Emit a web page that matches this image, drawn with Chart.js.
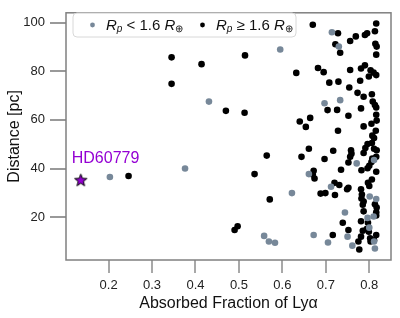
<!DOCTYPE html>
<html>
<head>
<meta charset="utf-8">
<script src="https://cdn.jsdelivr.net/npm/chart.js@4.4.1/dist/chart.umd.min.js"></script>
<style>
  html, body { margin: 0; padding: 0; background: #fff; }
</style>
</head>
<body>
<canvas id="chart" width="400" height="318"></canvas>
<script>
// planets with Rp < 1.6 R_earth (grey)
const smallX = [0.203, 0.376, 0.595, 0.431, 0.622, 0.558, 0.569, 0.583, 0.714, 0.730,
  0.697, 0.733, 0.811, 0.771, 0.661, 0.712, 0.801, 0.816, 0.744, 0.796,
  0.810, 0.800, 0.672, 0.750, 0.811, 0.705, 0.761, 0.813];
const smallY = [36.5, 40.0, 88.9, 67.5, 29.9, 12.3, 10.0, 9.5, 96.0, 90.1,
  66.8, 68.1, 43.5, 42.1, 37.7, 32.5, 28.5, 27.5, 21.9, 19.7,
  20.3, 15.7, 12.7, 12.0, 10.0, 9.6, 8.3, 7.1];

// planets with Rp >= 1.6 R_earth (black)
const largeX = [0.246, 0.345, 0.345, 0.514, 0.414, 0.470, 0.513, 0.564, 0.536, 0.571,
  0.490, 0.497, 0.670, 0.728, 0.722, 0.733, 0.756, 0.769, 0.790, 0.795,
  0.816, 0.813, 0.814, 0.817, 0.816, 0.632, 0.682, 0.695, 0.756, 0.781,
  0.790, 0.803, 0.810, 0.816, 0.799, 0.708, 0.729, 0.779, 0.754, 0.773,
  0.787, 0.806, 0.704, 0.726, 0.752, 0.781, 0.808, 0.813, 0.816, 0.816,
  0.817, 0.805, 0.787, 0.815, 0.807, 0.640, 0.664, 0.654, 0.728, 0.811,
  0.661, 0.644, 0.697, 0.717, 0.758, 0.759, 0.756, 0.787, 0.791, 0.796,
  0.806, 0.811, 0.817, 0.807, 0.816, 0.752, 0.735, 0.782, 0.796, 0.800,
  0.816, 0.672, 0.670, 0.674, 0.720, 0.731, 0.752, 0.749, 0.781, 0.800,
  0.797, 0.806, 0.688, 0.699, 0.721, 0.782, 0.787, 0.813, 0.787, 0.816,
  0.816, 0.739, 0.781, 0.797, 0.752, 0.794, 0.716, 0.781, 0.816, 0.802,
  0.803, 0.775, 0.777, 0.805, 0.783, 0.785, 0.817, 0.785, 0.799, 0.811];
const largeY = [36.9, 85.7, 74.8, 86.5, 82.9, 63.7, 62.9, 45.3, 37.7, 27.3,
  14.7, 16.3, 99.1, 95.6, 91.1, 87.6, 92.4, 94.3, 94.9, 95.6,
  99.6, 96.4, 91.3, 90.1, 86.8, 79.3, 81.3, 79.6, 80.5, 81.1,
  82.4, 80.4, 79.4, 78.4, 77.8, 75.3, 75.7, 76.1, 73.3, 71.1,
  69.5, 70.5, 64.0, 64.1, 61.7, 64.7, 67.5, 66.1, 65.1, 62.1,
  59.7, 58.4, 57.3, 55.5, 53.5, 59.3, 60.8, 57.1, 55.5, 52.5,
  48.1, 44.8, 43.9, 47.3, 47.5, 46.1, 44.8, 46.4, 48.4, 50.1,
  50.5, 48.1, 47.5, 44.1, 44.8, 42.5, 39.5, 39.3, 40.1, 41.1,
  38.7, 39.1, 37.5, 35.9, 34.1, 33.2, 32.1, 31.5, 31.5, 32.8,
  34.1, 35.5, 29.7, 29.9, 29.1, 27.7, 26.4, 25.3, 22.4, 22.0,
  20.7, 17.7, 18.3, 17.7, 14.7, 15.1, 12.7, 12.0, 12.7, 11.3,
  10.0, 10.0, 6.7, 42.7, 29.3, 25.1, 24.0, 14.4, 14.0, 10.5];

// highlighted target
const targetName = 'HD60779';
const targetX = 0.136;
const targetY = 35.4;
const targetLabelX = 0.193;
const targetLabelY = 44.2;

const xTicks = [0.2, 0.3, 0.4, 0.5, 0.6, 0.7, 0.8];
const yTicks = [20, 40, 60, 80, 100];

const FONT = '"Liberation Sans", Arial, Helvetica, sans-serif';
const PURPLE = '#9400d3';
const GREY = '#778899';

function toPoints(xs, ys) {
  return xs.map((x, i) => ({ x: x, y: ys[i] }));
}

// filled five pointed star for the target
function makeStar(size) {
  const c = document.createElement('canvas');
  c.width = size; c.height = size;
  const g = c.getContext('2d');
  const cx = size / 2, cy = size / 2 + 0.8;
  const R = size / 2 - 1, r = R * 0.42;
  g.beginPath();
  for (let i = 0; i < 10; i++) {
    const rad = i % 2 === 0 ? R : r;
    const a = -Math.PI / 2 + i * Math.PI / 5;
    const px = cx + rad * Math.cos(a), py = cy + rad * Math.sin(a);
    if (i === 0) g.moveTo(px, py); else g.lineTo(px, py);
  }
  g.closePath();
  g.fillStyle = PURPLE;
  g.fill();
  g.lineWidth = 1;
  g.strokeStyle = '#000';
  g.stroke();
  return c;
}

function drawRich(ctx, x, y, parts) {
  parts.forEach(p => {
    ctx.font = (p.it ? 'italic ' : '') + (p.sub ? '10px ' : '15px ') + FONT;
    ctx.fillText(p.t, x, y + (p.sub ? 4 : 0));
    x += ctx.measureText(p.t).width;
  });
}

const extras = {
  id: 'extras',
  beforeDatasetsDraw(chart) {
    const { ctx, chartArea: a } = chart;
    ctx.save();
    ctx.strokeStyle = '#808080';
    ctx.lineWidth = 1.5;
    ctx.strokeRect(a.left, a.top, a.right - a.left, a.bottom - a.top);
    ctx.restore();
  },
  afterDatasetsDraw(chart) {
    const { ctx } = chart;
    const xs = chart.scales.x, ys = chart.scales.y;
    ctx.save();
    // target label
    ctx.fillStyle = PURPLE;
    ctx.font = '16px ' + FONT;
    ctx.textAlign = 'center';
    ctx.textBaseline = 'middle';
    ctx.fillText(targetName, xs.getPixelForValue(targetLabelX), ys.getPixelForValue(targetLabelY));

    // legend box
    const bx = 73, by = 13, bw = 223, bh = 24;
    ctx.beginPath();
    ctx.roundRect(bx, by, bw, bh, 4);
    ctx.fillStyle = 'rgba(255,255,255,0.85)';
    ctx.fill();
    ctx.strokeStyle = '#d8d8d8';
    ctx.lineWidth = 1;
    ctx.stroke();

    const ly = by + bh / 2 + 0.5;
    ctx.fillStyle = GREY;
    ctx.beginPath(); ctx.arc(92.5, ly - 0.5, 2.4, 0, Math.PI * 2); ctx.fill();
    ctx.fillStyle = '#000';
    ctx.beginPath(); ctx.arc(202.5, ly - 0.5, 2.4, 0, Math.PI * 2); ctx.fill();

    ctx.textAlign = 'left';
    ctx.fillStyle = '#111';
    drawRich(ctx, 106, ly, [
      { t: 'R', it: true }, { t: 'p', it: true, sub: true },
      { t: ' < 1.6 ' }, { t: 'R', it: true }, { t: '\u2295', sub: true }
    ]);
    drawRich(ctx, 216, ly, [
      { t: 'R', it: true }, { t: 'p', it: true, sub: true },
      { t: ' \u2265 1.6 ' }, { t: 'R', it: true }, { t: '\u2295', sub: true }
    ]);
    ctx.restore();
  }
};

const ctx = document.querySelector('#chart').getContext('2d');
const chart = new Chart(ctx, {
  type: 'scatter',
  data: {
    datasets: [
      {
        label: 'Rp < 1.6 R\u2295',
        data: toPoints(smallX, smallY),
        backgroundColor: GREY,
        borderWidth: 0,
        pointRadius: 3.3
      },
      {
        label: 'Rp \u2265 1.6 R\u2295',
        data: toPoints(largeX, largeY),
        backgroundColor: '#000',
        borderWidth: 0,
        pointRadius: 3.3
      },
      {
        label: targetName,
        data: [{ x: targetX, y: targetY }],
        pointStyle: makeStar(15),
        pointRadius: 8
      }
    ]
  },
  options: {
    responsive: false,
    animation: false,
    layout: { padding: { top: 6, right: 6, left: 0, bottom: 0 } },
    plugins: {
      legend: { display: false },
      tooltip: { enabled: false }
    },
    scales: {
      x: {
        type: 'linear',
        min: 0.102,
        max: 0.85,
        afterBuildTicks: s => { s.ticks = xTicks.map(v => ({ value: v })); },
        afterFit: s => { s.height = 58; },
        ticks: {
          callback: v => v.toFixed(1),
          color: '#222',
          font: { family: FONT, size: 13 },
          padding: 5,
          maxRotation: 0
        },
        grid: { drawOnChartArea: false, tickLength: 13, color: '#a8a8a8', lineWidth: 2 },
        border: { display: false },
        title: {
          display: true,
          text: 'Absorbed Fraction of Ly\u03b1',
          color: '#111',
          font: { family: FONT, size: 16 },
          padding: { top: 0, bottom: 5 }
        }
      },
      y: {
        min: 2.4,
        max: 104,
        afterBuildTicks: s => { s.ticks = yTicks.map(v => ({ value: v })); },
        afterFit: s => { s.width = 66; },
        ticks: {
          color: '#222',
          font: { family: FONT, size: 13 },
          padding: 5
        },
        grid: { drawOnChartArea: false, tickLength: 16, color: '#999', lineWidth: 2 },
        border: { display: false },
        title: {
          display: true,
          text: 'Distance [pc]',
          color: '#111',
          font: { family: FONT, size: 16 },
          padding: { top: 5, bottom: 0 }
        }
      }
    }
  },
  plugins: [extras]
});
</script>
</body>
</html>
